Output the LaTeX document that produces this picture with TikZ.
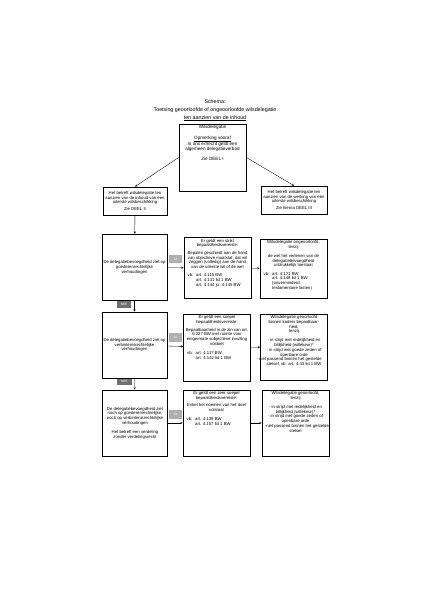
\documentclass[tikz,border=0pt]{standalone}
\usepackage{fontspec}
\setmainfont{Liberation Sans}
\usepackage{tikz}
\usepackage{xcolor}
\definecolor{jagrey}{RGB}{175,175,175}
\definecolor{neegrey}{RGB}{112,112,112}
\newcommand{\boxtxt}[3]{\parbox[c][#1][t]{#2}{\centering #3}}
\newcommand{\vbtab}[1]{\par\raggedright\hspace*{3pt}%
    \begin{tabular}[t]{@{}p{12pt}@{}l@{}}#1\end{tabular}}

\begin{document}
\begin{tikzpicture}[
    x=1.41pt, y=-1.41pt,
    box/.style={draw, line width=1pt, inner sep=0pt,
        font=\fontsize{6}{6.7}\selectfont},
    sidebox/.style={box, align=center, minimum width=92pt, minimum height=94pt},
    cellbox/.style={box, minimum width=94.5pt},
    arrow/.style={->, >=stealth, line width=0.5pt},
    ja/.style={fill=jagrey, text=white, inner sep=0pt, minimum width=18pt,
        minimum height=12pt, font=\fontsize{4.5}{5}\selectfont},
    nee/.style={fill=neegrey, text=white, inner sep=0pt, minimum width=21pt,
        minimum height=9pt, font=\fontsize{4.5}{5}\selectfont}
]
\useasboundingbox (0,0) rectangle (423,600);

% titel
\node[align=center, font=\fontsize{7.5}{11.3}\selectfont] (titel) at (215,110)
    {Schema:\\ Toetsing geoorloofde of ongeoorloofde wilsdelegatie\\
     \underline{ten aanzien van de inhoud}};

% bovenste blok en de twee soorten delegatie
\node[box, minimum width=94.5pt, minimum height=94.5pt] (wd) at (212.5,157.5)
    {\boxtxt{90pt}{90pt}{\fontsize{6.5}{7.5}\selectfont Wilsdelegatie\\[7pt]
     \underline{Opmerking vooraf}\\ In ons erfrecht geldt een\\
     algemeen delegatieverbod\\[6pt] Zie DEEL I}};
\node[box, align=center, minimum width=90pt, minimum height=39.5pt] (inhoud) at (135,201)
    {Het betreft wilsdelegatie ten\\ aanzien van de inhoud van een\\
     uiterste wilsbeschikking\\[3pt] Zie DEEL II};
\node[box, align=center, minimum width=93pt, minimum height=39.5pt] (werking) at (294,200)
    {Het betreft wilsdelegatie ten\\ aanzien van de werking van een\\
     uiterste wilsbeschikking\\[3pt] Zie hierna DEEL III};

% rij 1: goederenrechtelijk
\node[sidebox] (goed) at (134.5,267.5)
    {De delegatiebevoegdheid ziet op\\ goederenrechtelijke\\ verhoudingen};
\node[cellbox, minimum height=86pt] (strikt) at (217.5,268)
    {\boxtxt{82pt}{90pt}{Er geldt een strikt\\ bepaaldheidsvereiste:\\[4pt]
     Bepalen geschiedt aan de hand\\ van objectieve maatstaf, dat wil\\
     zeggen (volledig) aan de hand\\ van de uiterste wil of de wet\\[5pt]
     \vbtab{vb: & art. 4:115 BW\\ & art. 4:131 lid 1 BW\\ & art. 4:144 jo. 4:145 BW}}};
\node[cellbox, minimum height=83pt] (ongeoorl) at (293.5,268.5)
    {\boxtxt{79pt}{90pt}{Wilsdelegatie ongeoorloofd,\\ tenzij\\[6pt]
     de wet het verlenen van de\\ delegatiebevoegdheid\\
     uitdrukkelijk toestaat\\[5pt]
     \vbtab{vb: & art. 4:171 BW\\ & art. 4:148 lid 1 BW\\ & (onverminderd\\
     & testamentaire lasten)}}};

% rij 2: verbintenisrechtelijk
\node[sidebox, minimum height=93pt] (verb) at (134.5,345)
    {De delegatiebevoegdheid ziet op\\ verbintenisrechtelijke\\ verhoudingen};
\node[cellbox, minimum height=94.5pt] (soepel) at (217,347.5)
    {\boxtxt{90pt}{90pt}{Er geldt een soepel\\ bepaaldheidsvereiste:\\[4pt]
     Bepaalbaarheid in de zin van art.\\ 6:227 BW met ruimte voor\\
     enigermate subjectieve invulling\\ voldoet\\[6pt]
     \vbtab{vb: & art. 4:117 BW\\ & art. 4:142 lid 1 BW}}};
\node[cellbox, minimum height=93pt] (geoorl) at (294,347)
    {\boxtxt{89pt}{90pt}{Wilsdelegatie geoorloofd\\ binnen kaders bepaalbaar-\\
     heid,\\ tenzij\\[6pt]
     - in strijd met redelijkheid en\\ billijkheid (willekeur)*\\
     - in strijd met goede zeden of\\ openbare orde\\
     \makebox[78pt][r]{- niet passend binnen het gestelde}\\
     stelsel, vb: art. 4:43 lid 1 BW}};

% rij 3: geen van beide
\node[sidebox, minimum height=93pt] (noch) at (135,423)
    {De delegatiebevoegdheid ziet\\ noch op goederenrechtelijke,\\
     noch op verbintenisrechtelijke\\ verhoudingen\\[6pt]
     Het betreft een verdeling\\ zonder verdelingsrecht};
\node[cellbox, minimum height=93pt] (zeersoepel) at (216.5,423)
    {\boxtxt{89pt}{90pt}{Er geldt een zeer soepel\\ bepaaldheidsvereiste:\\[4pt]
     Enkel het noemen van het doel\\ volstaat\\[6pt]
     \vbtab{vb: & art. 4:139 BW\\ & art. 4:157 lid 1 BW}}};
\node[cellbox, minimum height=93pt] (geoorl2) at (295.5,423)
    {\boxtxt{89pt}{90pt}{Wilsdelegatie geoorloofd,\\ tenzij\\[6pt]
     - in strijd met redelijkheid en\\ billijkheid (willekeur)*\\
     - in strijd met goede zeden of\\ openbare orde\\
     \makebox[90pt][l]{\hspace*{2pt}-niet passend binnen het gestelde}\\ stelsel}};

% verbindingen
\draw[arrow] (wd.west) -- (inhoud.north);
\draw[arrow] (wd.east) -- (werking.north);
\draw[arrow] (inhoud) -- (goed);
\draw[arrow] (goed) -- node[ja, above=6pt] {JA} (strikt);
\draw[arrow] (strikt) -- (ongeoorl);
\draw[arrow] (goed) -- node[nee, pos=0.3, left=4pt] {NEE} (verb);
\draw[arrow] (verb) -- node[ja, above=6pt] {JA} (soepel);
\draw[arrow] (soepel) -- (geoorl);
\draw[arrow] (verb) -- node[nee, pos=0.3, left=4pt] {NEE} (noch);
\draw[arrow] (noch) -- node[ja, above=6pt] {JA} (zeersoepel);
\draw[arrow] (zeersoepel) -- (geoorl2);
\end{tikzpicture}
\end{document}
